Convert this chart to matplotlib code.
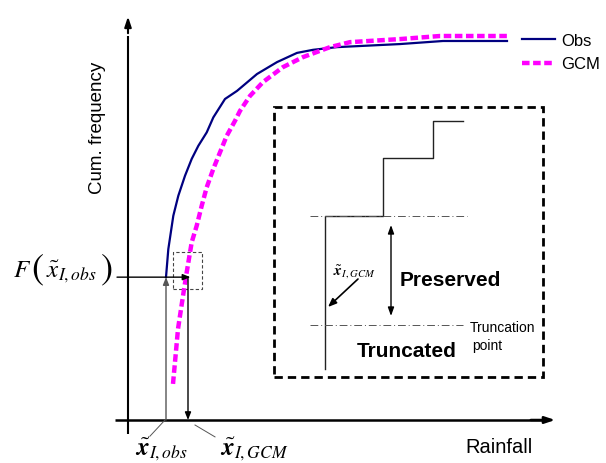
import matplotlib
matplotlib.use('Agg')
import matplotlib.pyplot as plt
from matplotlib.patches import Rectangle

plt.rcParams['font.family'] = ['Liberation Sans', 'DejaVu Sans']
plt.rcParams['mathtext.fontset'] = 'stix'

# cumulative distribution curves (rainfall, cum. frequency)
obs_rain = [9.5, 10.08, 11.33, 12.58, 14.25, 15.93, 17.58, 19.68, 21.33, 24.25, 27.25,
            32.25, 37.25, 42.25, 46.25, 52.25, 68.0, 78.75, 94.75]
obs_freq = [0.372, 0.445, 0.532, 0.584, 0.636, 0.680, 0.714, 0.749, 0.788, 0.836, 0.857,
            0.901, 0.932, 0.956, 0.964, 0.971, 0.979, 0.987, 0.987]

gcm_rain = [11.25, 11.75, 12.5, 13.75, 14.68, 15.93, 17.18, 18.43, 19.68, 21.33, 23.0,
            24.68, 26.75, 28.0, 30.5, 33.75, 38.75, 43.75, 50.5, 55.5, 68.0, 78.0, 94.75]
gcm_freq = [0.094, 0.151, 0.237, 0.323, 0.385, 0.463, 0.506, 0.558, 0.606, 0.654, 0.697,
            0.740, 0.779, 0.805, 0.844, 0.880, 0.919, 0.945, 0.971, 0.984, 0.992, 1.0, 1.0]

x_obs = 9.5      # x~_I,obs
x_gcm = 15.0     # x~_I,GCM
f_obs = 0.372    # F(x~_I,obs)

# inset: empirical step cdf (inset units)
step_u = [51, 51, 109, 109, 159, 159, 189]
step_v = [8, 161, 161, 219, 219, 256, 256]
trunc_hi = 161
trunc_lo = 52

fig = plt.figure(figsize=(6.06, 4.64), dpi=100)
ax = fig.add_axes([0, 0, 1, 1])
ax.set_xlim(-32, 119.5)
ax.set_ylim(-43 / 384, 421 / 384)
ax.axis('off')

# axes with arrows
ax.plot([-3.25, 105], [0, 0], color='k', lw=1.8, solid_capstyle='butt')
ax.annotate('', xy=(107.5, 0), xytext=(100, 0),
            arrowprops=dict(arrowstyle='-|>,head_length=0.6,head_width=0.2', color='k', lw=1.8))
ax.plot([0, 0], [-0.036, 1.0], color='k', lw=1.5, solid_capstyle='butt')
ax.annotate('', xy=(0, 1.058), xytext=(0, 1.0),
            arrowprops=dict(arrowstyle='-|>,head_length=0.6,head_width=0.2', color='k', lw=1.5))

ax.plot(obs_rain, obs_freq, color='#000080', lw=1.6, label='Obs')
ax.plot(gcm_rain, gcm_freq, color='#ff00ff', lw=3.2, ls=(0, (1.7, 0.8)), label='GCM')

ax.legend(loc='upper left', bbox_to_anchor=(522 / 606, 1 - 34 / 464), frameon=False,
          fontsize=12, borderpad=0, borderaxespad=0, handlelength=2.0,
          handletextpad=0.35, labelspacing=0.5)

# quantile mapping arrows
ax.annotate('', xy=(x_obs, f_obs), xytext=(x_obs, 0),
            arrowprops=dict(arrowstyle='-|>,head_length=0.45,head_width=0.18',
                            color='#555555', lw=1.0, shrinkA=0, shrinkB=0))
ax.annotate('', xy=(x_gcm + 0.6, f_obs), xytext=(-2.75, f_obs),
            arrowprops=dict(arrowstyle='-|>,head_length=0.45,head_width=0.18',
                            color='k', lw=1.0, shrinkA=0, shrinkB=0))
ax.annotate('', xy=(x_gcm, 0), xytext=(x_gcm, f_obs),
            arrowprops=dict(arrowstyle='-|>,head_length=0.45,head_width=0.18',
                            color='k', lw=1.0, shrinkA=0, shrinkB=0))
ax.add_patch(Rectangle((11.25, 0.341), 7.25, 0.0965, fill=False, ls=(0, (3, 2)),
                       lw=0.8, edgecolor='#444444'))

# leader lines for x labels
ax.plot([x_obs - 0.25, 5.5], [0, -0.042], color='#555555', lw=0.7)
ax.plot([16.75, 21.75], [-0.013, -0.044], color='#555555', lw=0.7)

ax.text(1.75, -0.0885, r'$\tilde{\mathbfit{x}}_{I,obs}$', fontsize=18, ha='left', va='baseline')
ax.text(23.0, -0.0885, r'$\tilde{\mathbfit{x}}_{I,GCM}$', fontsize=18, ha='left', va='baseline')

# F( x~_I,obs ) label, parentheses drawn larger
ax.text(-28.75, 0.375, r'$F$', fontsize=18, ha='left', va='baseline')
ax.text(-24.25, 0.393, r'$($', fontsize=26, ha='left', va='center')
ax.text(-20.5, 0.375, r'$\tilde{x}_{I,obs}$', fontsize=18, ha='left', va='baseline')
ax.text(-6.9, 0.393, r'$)$', fontsize=26, ha='left', va='center')

ax.text(84.25, -0.0833, 'Rainfall', fontsize=14.5, ha='left', va='baseline')
ax.text(-7.75, 0.763, 'Cum. frequency', fontsize=13.5, rotation=90, ha='center', va='center')

# inset
ax2 = fig.add_axes([274 / 606, (464 - 378) / 464, 269 / 606, 270 / 464])
ax2.set_xlim(0, 269)
ax2.set_ylim(0, 270)
ax2.axis('off')
ax2.add_patch(Rectangle((0, 0), 269, 270, fill=False, ls=(0, (3, 1.8)), lw=2,
                        edgecolor='k', clip_on=False))
ax2.plot(step_u, step_v, color='#222222', lw=1.0)
ax2.plot([36, 193], [trunc_hi, trunc_hi], color='#555555', lw=0.7, ls=(0, (8, 3, 1, 3)))
ax2.plot([36, 189], [trunc_lo, trunc_lo], color='#555555', lw=0.7, ls=(0, (8, 3, 1, 3)))
ax2.annotate('', xy=(117, 152), xytext=(117, 61),
             arrowprops=dict(arrowstyle='<|-|>,head_length=0.5,head_width=0.18',
                             color='k', lw=1.0, shrinkA=0, shrinkB=0))
ax2.annotate('', xy=(54, 70), xytext=(84, 98),
             arrowprops=dict(arrowstyle='-|>,head_length=0.5,head_width=0.2',
                             color='k', lw=1.2, shrinkA=0, shrinkB=0))
ax2.text(59, 103, r'$\tilde{\mathbfit{x}}_{I,GCM}$', fontsize=11, ha='left', va='baseline')
ax2.text(126, 92, 'Preserved', fontsize=15, fontweight='bold', ha='left', va='baseline')
ax2.text(83, 21, 'Truncated', fontsize=15, fontweight='bold', ha='left', va='baseline')
ax2.text(196, 46, 'Truncation', fontsize=10, ha='left', va='baseline')
ax2.text(198, 28, 'point', fontsize=10, ha='left', va='baseline')

fig.savefig('out.png', dpi=100)
